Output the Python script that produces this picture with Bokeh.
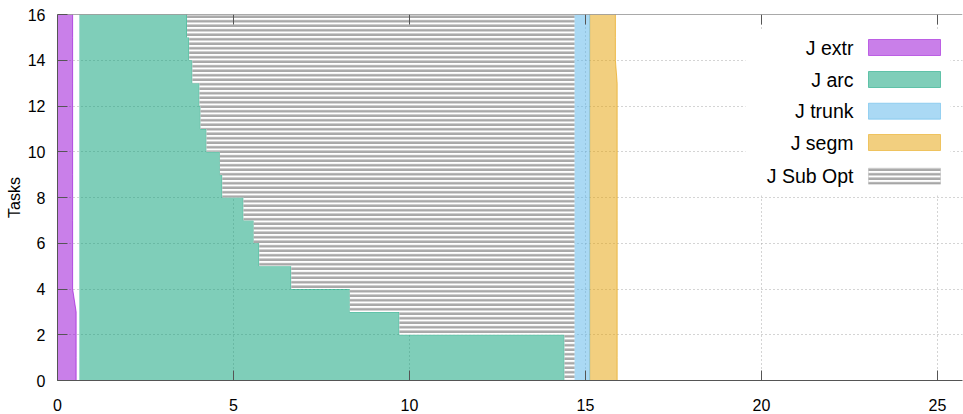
from bokeh.plotting import figure
from bokeh.models import Range1d, FixedTicker, Span, Label, BoxAnnotation
from bokeh.embed import file_html
from bokeh.resources import INLINE

# ---- data -------------------------------------------------------------
task_edges = list(range(17))                      # task boundaries 0..16
# end of "J extr" at each task boundary
extr_end = [0.53, 0.53, 0.53, 0.53, 0.43, 0.43, 0.43, 0.43, 0.43,
            0.43, 0.43, 0.43, 0.43, 0.43, 0.43, 0.43, 0.43]
arc_start = 0.62
# end of "J arc" for each task band [k, k+1]
arc_end = [14.40, 14.40, 9.71, 8.30, 6.64, 5.73, 5.57, 5.28,
           4.68, 4.61, 4.23, 4.06, 4.03, 3.83, 3.74, 3.68]
subopt_end = [14.69] * 17
trunk_end = [15.12] * 17
segm_end = [15.90, 15.90, 15.90, 15.90, 15.90, 15.90, 15.90, 15.90, 15.90,
            15.90, 15.90, 15.90, 15.90, 15.90, 15.85, 15.85, 15.85]

x_ticks = [0, 5, 10, 15, 20, 25]
y_ticks = [0, 2, 4, 6, 8, 10, 12, 14, 16]

series_names = ["J extr", "J arc", "J trunk", "J segm", "J Sub Opt"]
series_colors = ["#9400d3", "#009e73", "#56b4e9", "#e69f00", "#a8a8a8"]

FONT = "Liberation Sans"
AX = "#555555"

# ---- figure -----------------------------------------------------------
W, H = 963, 414
ML, MR, MT, MB = 57, 1, 14, 34
px_per_x = 35.2
x_end = (W - ML - MR) / px_per_x

p = figure(width=W, height=H, x_range=Range1d(0, x_end), y_range=Range1d(0, 16),
           output_backend="svg", toolbar_location=None,
           min_border_left=ML, min_border_right=MR, min_border_top=MT,
           min_border_bottom=MB)
p.outline_line_color = None
p.background_fill_color = "white"

p.xaxis.ticker = FixedTicker(ticks=x_ticks)
p.yaxis.ticker = FixedTicker(ticks=y_ticks)
p.xgrid.ticker = FixedTicker(ticks=x_ticks)
p.ygrid.ticker = FixedTicker(ticks=y_ticks)
for ax in (p.xaxis[0], p.yaxis[0]):
    ax.major_tick_in = 10
    ax.major_tick_out = 0
    ax.minor_tick_line_color = None
    ax.axis_line_color = AX
    ax.major_tick_line_color = AX
    ax.major_label_text_font = FONT
    ax.major_label_text_font_size = "16px"
    ax.major_label_text_color = "black"
p.xaxis.major_label_standoff = 18
p.yaxis.major_label_standoff = 12
p.yaxis.axis_label = "Tasks"
p.yaxis.axis_label_text_font = FONT
p.yaxis.axis_label_text_font_style = "normal"
p.yaxis.axis_label_text_font_size = "16px"
p.yaxis.axis_label_text_color = "black"
p.yaxis.axis_label_standoff = 2

p.grid.grid_line_color = "#a8a8a8"
p.grid.grid_line_dash = "1 3"
p.grid.grid_line_width = 1

# ---- series -----------------------------------------------------------
# J extr
p.harea(y=task_edges, x1=[0] * len(task_edges), x2=extr_end,
        fill_color=series_colors[0], fill_alpha=0.5)
p.line(extr_end, task_edges, line_color=series_colors[0], line_alpha=0.6)

# J arc (step shape built from the per-task values)
step_y, step_x = [], []
for k, a in enumerate(arc_end):
    step_y += [task_edges[k], task_edges[k + 1]]
    step_x += [a, a]
p.harea(y=step_y, x1=[arc_start] * len(step_y), x2=step_x,
        fill_color=series_colors[1], fill_alpha=0.5)
p.line(step_x, step_y, line_color=series_colors[1], line_alpha=0.6)

# J Sub Opt (hatched)
sub_x2 = [subopt_end[0]] * len(step_y)
p.harea(y=step_y, x1=step_x, x2=sub_x2, fill_color="white", fill_alpha=1,
        hatch_pattern="horizontal_line", hatch_color=series_colors[4],
        hatch_weight=2.5, hatch_scale=4.5)

# J trunk
p.harea(y=task_edges, x1=subopt_end, x2=trunk_end,
        fill_color=series_colors[2], fill_alpha=0.5)
p.line(trunk_end, task_edges, line_color=series_colors[2], line_alpha=0.6)

# J segm
p.harea(y=task_edges, x1=trunk_end, x2=segm_end,
        fill_color=series_colors[3], fill_alpha=0.5)
p.line(segm_end, task_edges, line_color=series_colors[3], line_alpha=0.6)

# mirrored top border and ticks
p.add_layout(Span(location=16, dimension="width", line_color=AX, line_width=1))
tick_len = 10 / ((H - MT - MB) / 16)
p.segment(x0=x_ticks, y0=[16] * len(x_ticks), x1=x_ticks,
          y1=[16 - tick_len] * len(x_ticks), line_color=AX, line_width=1)

# ---- key (labels left, swatches right) --------------------------------
def dx(px):
    return (px - ML) / px_per_x

ppy = (H - MT - MB) / 16
def dy(py):
    return (H - MB - py) / ppy

p.add_layout(BoxAnnotation(left=dx(745), right=dx(950), top=dy(30), bottom=dy(195),
                           fill_color="white", fill_alpha=1, line_color=None))
row_py = [47, 79, 110.7, 142, 175.7]
half = 8 / ppy
for i, (name, col) in enumerate(zip(series_names, series_colors)):
    yc = dy(row_py[i])
    p.add_layout(Label(x=dx(853), y=yc, text=name, text_align="right",
                       text_baseline="middle", text_font=FONT,
                       text_font_size="19.5px", text_color="black"))
    if name == "J Sub Opt":
        box = BoxAnnotation(left=dx(868), right=dx(940), bottom=yc - half, top=yc + half,
                            fill_color="white", fill_alpha=1, line_color="#999999",
                            line_width=1, hatch_pattern="horizontal_line",
                            hatch_color=col, hatch_weight=2.5, hatch_scale=4.5)
    else:
        box = BoxAnnotation(left=dx(868), right=dx(940), bottom=yc - half, top=yc + half,
                            fill_color=col, fill_alpha=0.5, line_color=col,
                            line_alpha=0.5, line_width=1)
    p.add_layout(box)

open("out.html", "w").write(file_html(p, INLINE))
